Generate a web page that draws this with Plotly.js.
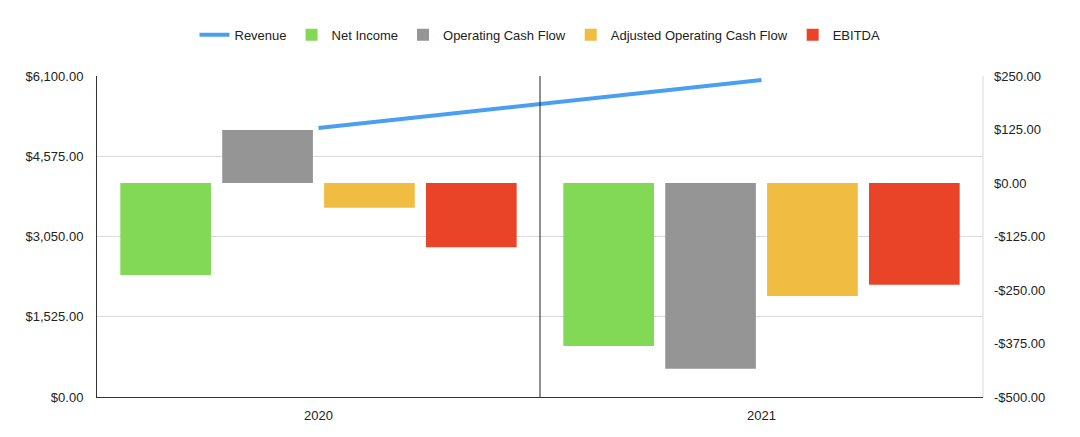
<!DOCTYPE html>
<html>
<head>
<script src="https://cdn.plot.ly/plotly-3.0.1.min.js"></script>
<style>body{margin:0}#chart{width:1080px;height:437px}</style>
</head>
<body>
<div id="chart"></div>
<script>
const years = ["2020", "2021"];
const revenue = [5112, 6024];
const netIncome = [-215, -381];
const operatingCashFlow = [124, -434];
const adjustedOperatingCashFlow = [-58, -264];
const ebitda = [-150, -238];
const leftTicks = [0, 1525, 3050, 4575, 6100];
const rightTicks = [-500, -375, -250, -125, 0, 125, 250];

function barTrace(name, values, color) {
  return { name: name, x: years, y: values, type: "bar", yaxis: "y2", marker: { color: color } };
}

const data = [
  { name: "Revenue", x: years, y: revenue, type: "scatter", mode: "lines", line: { color: "#4a9ff0", width: 4 } },
  barTrace("Net Income", netIncome, "#82d955"),
  barTrace("Operating Cash Flow", operatingCashFlow, "#959595"),
  barTrace("Adjusted Operating Cash Flow", adjustedOperatingCashFlow, "#f0bd42"),
  barTrace("EBITDA", ebitda, "#ea4428"),
];

const money = (v) => (v < 0 ? "-$" : "$") + Math.abs(v).toLocaleString("en-US", { minimumFractionDigits: 2 });

const layout = {
  width: 1080,
  height: 437,
  font: { family: "Liberation Sans, Arial, sans-serif", size: 13, color: "#222" },
  margin: { l: 97, r: 97, t: 76, b: 40, autoexpand: false },
  showlegend: true,
  legend: { orientation: "h", x: 0.5, xanchor: "center", y: 1.128, yanchor: "middle", font: { size: 13 }, itemwidth: 30 },
  barmode: "group",
  bargap: 0.08,
  bargroupgap: 0.11,
  xaxis: { type: "category", showline: true, linecolor: "#333", ticks: "", zeroline: false, ticklabelstandoff: 6 },
  yaxis: {
    range: [0, 6100], tickvals: leftTicks, ticktext: leftTicks.map(money), ticklabelstandoff: 10,
    gridcolor: "#d9d9d9", showline: true, linecolor: "#333", zeroline: false,
  },
  yaxis2: {
    range: [-500, 250], tickvals: rightTicks, ticktext: rightTicks.map(money), ticklabelstandoff: 10,
    overlaying: "y", side: "right", showgrid: false, zeroline: false,
  },
  shapes: [
    { type: "line", xref: "x", yref: "paper", x0: 0.5, x1: 0.5, y0: 0, y1: 1, line: { color: "#222", width: 1 } },
    { type: "line", xref: "paper", yref: "paper", x0: 1, x1: 1, y0: 0, y1: 1, line: { color: "#d9d9d9", width: 1 } },
  ],
  plot_bgcolor: "white",
  paper_bgcolor: "white",
};

Plotly.newPlot("chart", data, layout, { displayModeBar: false });
</script>
</body>
</html>
